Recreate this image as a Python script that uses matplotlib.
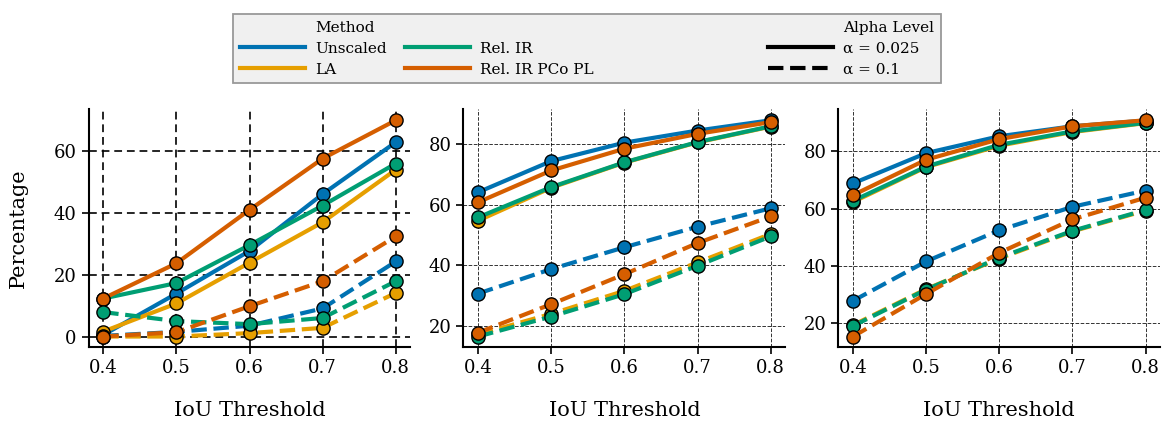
import matplotlib.pyplot as plt
from matplotlib.lines import Line2D

plt.rcParams['font.family'] = 'DejaVu Serif'

thresholds = [0.4, 0.5, 0.6, 0.7, 0.8]
methods = ['Unscaled', 'LA', 'Rel. IR', 'Rel. IR PCo PL']
colors = ['#0072B2', '#E69F00', '#009E73', '#D55E00']

# panel 1
p1_solid = {
    'Unscaled': [0.5, 13.9, 27.7, 46.1, 62.9],
    'LA': [1.6, 10.7, 23.9, 37.0, 54.0],
    'Rel. IR': [12.3, 17.3, 29.6, 42.4, 56.0],
    'Rel. IR PCo PL': [12.3, 23.7, 41.0, 57.6, 70.0],
}
p1_dash = {
    'Unscaled': [0.2, 1.5, 3.5, 9.1, 24.3],
    'LA': [0.0, 0.0, 1.1, 2.8, 14.1],
    'Rel. IR': [7.9, 5.0, 4.0, 6.0, 17.9],
    'Rel. IR PCo PL': [0.0, 1.4, 9.8, 17.9, 32.4],
}
# panel 2
p2_solid = {
    'Unscaled': [64.2, 74.5, 80.6, 84.6, 88.0],
    'LA': [54.8, 65.7, 74.0, 80.7, 85.9],
    'Rel. IR': [55.9, 65.9, 74.1, 80.8, 86.0],
    'Rel. IR PCo PL': [60.9, 71.4, 78.6, 83.5, 87.4],
}
p2_dash = {
    'Unscaled': [30.7, 38.8, 46.0, 52.8, 58.9],
    'LA': [17.2, 24.0, 31.6, 41.0, 50.4],
    'Rel. IR': [16.5, 23.1, 30.5, 39.9, 49.6],
    'Rel. IR PCo PL': [17.8, 27.2, 37.1, 47.4, 56.2],
}
# panel 3
p3_solid = {
    'Unscaled': [68.8, 79.4, 85.3, 88.8, 90.8],
    'LA': [62.3, 74.5, 82.0, 86.8, 89.9],
    'Rel. IR': [62.7, 74.7, 82.3, 87.0, 90.0],
    'Rel. IR PCo PL': [64.7, 77.1, 84.3, 88.8, 90.9],
}
p3_dash = {
    'Unscaled': [27.7, 41.5, 52.4, 60.6, 66.3],
    'LA': [19.2, 31.8, 42.5, 52.0, 59.3],
    'Rel. IR': [18.9, 31.6, 42.8, 52.2, 59.5],
    'Rel. IR PCo PL': [15.2, 30.1, 44.5, 56.2, 63.8],
}

panels = [(p1_solid, p1_dash), (p2_solid, p2_dash), (p3_solid, p3_dash)]

fig, axes = plt.subplots(1, 3, figsize=(11.66, 4.21), dpi=100)
fig.subplots_adjust(left=0.076, right=0.995, top=0.74, bottom=0.175, wspace=0.165)

for i, (ax, (solid, dash)) in enumerate(zip(axes, panels)):
    for data, ls in [(solid, '-'), (dash, '--')]:
        for m, c in zip(methods, colors):
            ax.plot(thresholds, data[m], ls=ls, color=c, lw=3,
                    marker='o', markersize=9.5, markeredgecolor='black',
                    markeredgewidth=1)
    if i == 0:
        ax.grid(True, ls=(0, (4, 2.5)), color='black', lw=1.4, alpha=0.85)
        ax.set_ylabel('Percentage', fontsize=15, labelpad=19)
        ax.set_yticks([0, 20, 40, 60])
    else:
        ax.grid(True, ls='--', color='black', lw=0.7, alpha=0.8)
        ax.set_yticks([20, 40, 60, 80])
    ax.set_axisbelow(True)
    ax.set_xticks(thresholds)
    ax.set_xlabel('IoU Threshold', fontsize=15, labelpad=17)
    ax.tick_params(labelsize=13, length=5, width=1.2)
    for s in ['top', 'right']:
        ax.spines[s].set_visible(False)
    for s in ['left', 'bottom']:
        ax.spines[s].set_linewidth(1.5)

blank = Line2D([], [], color='none')
pad = ' ' * 13
handles = [blank,
           Line2D([], [], color=colors[0], lw=3),
           Line2D([], [], color=colors[1], lw=3),
           blank,
           Line2D([], [], color=colors[2], lw=3),
           Line2D([], [], color=colors[3], lw=3),
           blank, blank, blank,
           blank,
           Line2D([], [], color='black', lw=3, ls='-'),
           Line2D([], [], color='black', lw=3, ls='--')]
labels = ['Method', 'Unscaled', 'LA',
          '', 'Rel. IR', 'Rel. IR PCo PL',
          pad, pad, pad,
          'Alpha Level', 'α = 0.025', 'α = 0.1']
leg = fig.legend(handles, labels, ncol=4, loc='upper center',
                 bbox_to_anchor=(0.5035, 0.985), fontsize=11,
                 fancybox=False, edgecolor='#999999', facecolor='#f0f0f0',
                 framealpha=1, handlelength=4.25, columnspacing=1.2,
                 labelspacing=0.45, handletextpad=0.65, borderpad=0.45)
leg.get_frame().set_linewidth(1.3)

fig.savefig('out.png')
